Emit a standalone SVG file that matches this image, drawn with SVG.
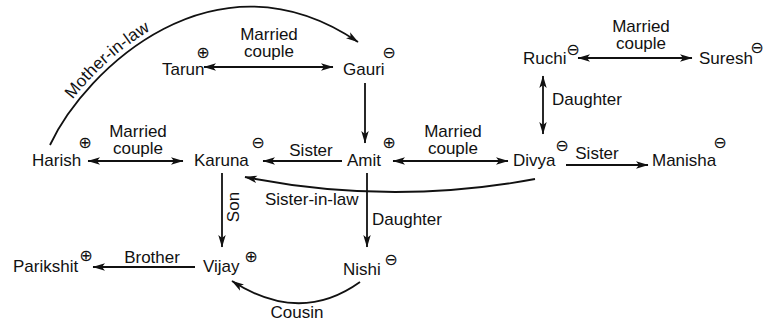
<svg xmlns="http://www.w3.org/2000/svg" width="763" height="322" viewBox="0 0 763 322">
<style>
  text { font-family: "Liberation Sans", Arial, sans-serif; font-size: 17px; fill: #111; }
  .sym { font-family: "DejaVu Sans", sans-serif; font-size: 16px; text-anchor: middle; }
  .lbl { text-anchor: middle; }
  .c { fill: none; stroke: #111; stroke-width: 1.8; }
  .a { marker-end: url(#ah); }
  .aa { marker-start: url(#ah); marker-end: url(#ah); }
</style>
<defs>
  <marker id="ah" markerUnits="userSpaceOnUse" markerWidth="13" markerHeight="9" refX="12" refY="4.5" orient="auto-start-reverse">
    <path d="M0,0.8 L12.5,4.5 L0,8.2 L3,4.5 z" fill="#111"/>
  </marker>
  <path id="milPath" d="M50,145 C85,70 215,-55 358,42"/>
</defs>
<rect width="763" height="322" fill="#ffffff"/>

<g id="connectors">
  <path class="c a" d="M50,145 C85,70 215,-55 358,42"/>
  <text dy="-5"><textPath href="#milPath" startOffset="50">Mother-in-law</textPath></text>
  <line class="c aa" x1="204" y1="67" x2="333" y2="67"/>
  <text class="lbl" x="269" y="40">Married</text>
  <text class="lbl" x="269" y="57">couple</text>
  <line class="c a" x1="365" y1="83" x2="365" y2="143"/>
  <line class="c aa" x1="578" y1="58" x2="692" y2="58"/>
  <text class="lbl" x="641" y="32">Married</text>
  <text class="lbl" x="641" y="49">couple</text>
  <line class="c aa" x1="543" y1="76" x2="543" y2="134"/>
  <text x="552" y="105">Daughter</text>
  <line class="c aa" x1="88" y1="161" x2="183" y2="161"/>
  <text class="lbl" x="138" y="137">Married</text>
  <text class="lbl" x="138" y="154">couple</text>
  <line class="c a" x1="342" y1="161" x2="263" y2="161"/>
  <text class="lbl" x="311" y="156">Sister</text>
  <line class="c aa" x1="393" y1="161" x2="508" y2="161"/>
  <text class="lbl" x="453" y="137">Married</text>
  <text class="lbl" x="453" y="154">couple</text>
  <line class="c a" x1="566" y1="165" x2="648" y2="165"/>
  <text class="lbl" x="597" y="159">Sister</text>
  <path class="c a" d="M535,179 Q390,206 245,177"/>
  <text x="265" y="205">Sister-in-law</text>
  <line class="c a" x1="222" y1="173" x2="222" y2="247"/>
  <text class="lbl" transform="translate(239,207) rotate(-90)" x="0" y="0">Son</text>
  <line class="c a" x1="367" y1="173" x2="367" y2="247"/>
  <text x="372" y="225">Daughter</text>
  <line class="c a" x1="195" y1="267" x2="93" y2="267"/>
  <text class="lbl" x="152" y="263">Brother</text>
  <path class="c a" d="M360,282 Q300,325 232,281"/>
  <text class="lbl" x="297" y="318">Cousin</text>
</g>

<g id="tarun"><text x="162" y="75">Tarun</text><text class="sym" x="203" y="58">⊕</text></g>
<g id="gauri"><text x="343" y="75">Gauri</text><text class="sym" x="389" y="58">⊖</text></g>
<g id="ruchi"><text x="523" y="64">Ruchi</text><text class="sym" x="573" y="55">⊖</text></g>
<g id="suresh"><text x="699" y="64">Suresh</text><text class="sym" x="757" y="53">⊖</text></g>
<g id="harish"><text x="32" y="166">Harish</text><text class="sym" x="85" y="148">⊕</text></g>
<g id="karuna"><text x="194" y="166">Karuna</text><text class="sym" x="258" y="148">⊖</text></g>
<g id="amit"><text x="347" y="166">Amit</text><text class="sym" x="389" y="148">⊕</text></g>
<g id="divya"><text x="513" y="166">Divya</text><text class="sym" x="562" y="151">⊖</text></g>
<g id="manisha"><text x="652" y="166">Manisha</text><text class="sym" x="720" y="148">⊖</text></g>
<g id="parikshit"><text x="13" y="272">Parikshit</text><text class="sym" x="86" y="261">⊕</text></g>
<g id="vijay"><text x="203" y="272">Vijay</text><text class="sym" x="251" y="262">⊕</text></g>
<g id="nishi"><text x="343" y="275">Nishi</text><text class="sym" x="391" y="265">⊖</text></g>
</svg>
